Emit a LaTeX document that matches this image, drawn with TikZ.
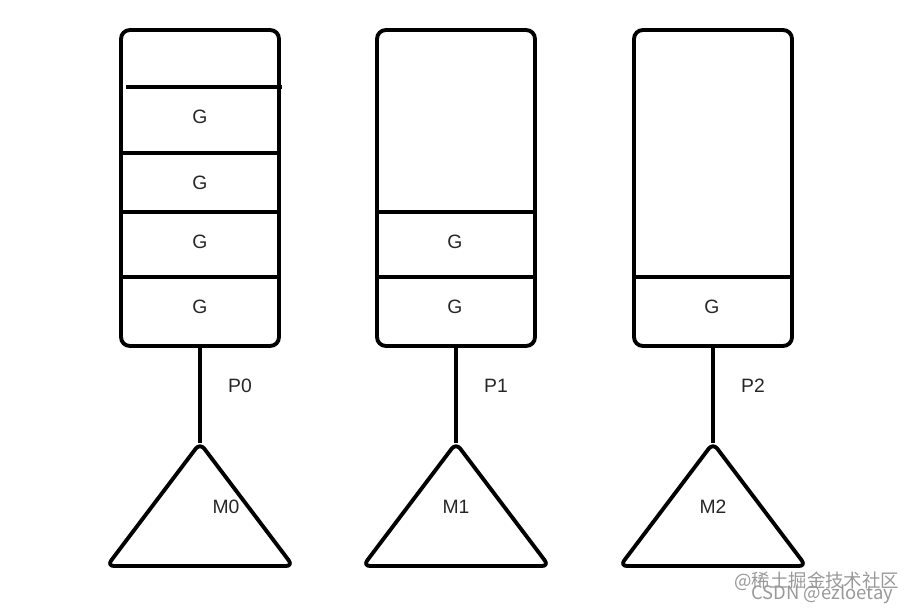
\documentclass[tikz,border=0pt]{standalone}
\usepackage{fontspec}
\setmainfont{Liberation Sans}
\newfontfamily\cjk{Noto Sans CJK SC}
\usetikzlibrary{positioning}

\begin{document}
\begin{tikzpicture}[
  x=0.02cm, y=-0.02cm,
  every node/.style={font=\fontsize{11}{13}\selectfont, text=black!85},
  queue/.style = {draw, line width=2.2pt, rounded corners=5pt, minimum width=3.16cm, minimum height=6.32cm, inner sep=0pt},
  sep/.style   = {line width=2.2pt},
  stem/.style  = {line width=2.2pt},
  tri/.style   = {line width=2.2pt, rounded corners=4pt, line join=round},
  wmark/.style = {font=\cjk\fontsize{10.5}{12}\selectfont, text=black!40, anchor=west},
]
  \useasboundingbox (0,0) rectangle (909,612);
  % queues, processors and machines
  \foreach \i/\x/\mx in {0/200/226, 1/456/456, 2/713/713}{
    \node[queue] (q\i) at (\x,188) {};
    \node (p\i) at (\x+40,386) {P\i};
    \draw[tri] (\x,443) coordinate (top\i) -- (\x+93,566) -- (\x-93,566) -- cycle;
    \node (m\i) at (\mx,507) {M\i};
    \draw[stem] (q\i.south) -- (top\i);
  }
  % run queue slots
  \draw[sep] (126,87) -- (282,87);
  \foreach \y in {153, 212, 277}
    \draw[sep] (121,\y) -- (279,\y);
  \foreach \y in {212, 277}
    \draw[sep] (377,\y) -- (535,\y);
  \draw[sep] (634,277) -- (792,277);
  \foreach \n/\x/\y in {g0a/200/117, g0b/200/183, g0c/200/242, g0d/200/307,
                        g1a/455/242, g1b/455/307, g2a/712/307}
    \node (\n) at (\x,\y) {G};
  % watermark
  \node[wmark] (wm2) at (745,594) {CSDN @ezloetay};
  \node[wmark] (wm1) at (728,581) {@稀土掘金技术社区};
\end{tikzpicture}
\end{document}
